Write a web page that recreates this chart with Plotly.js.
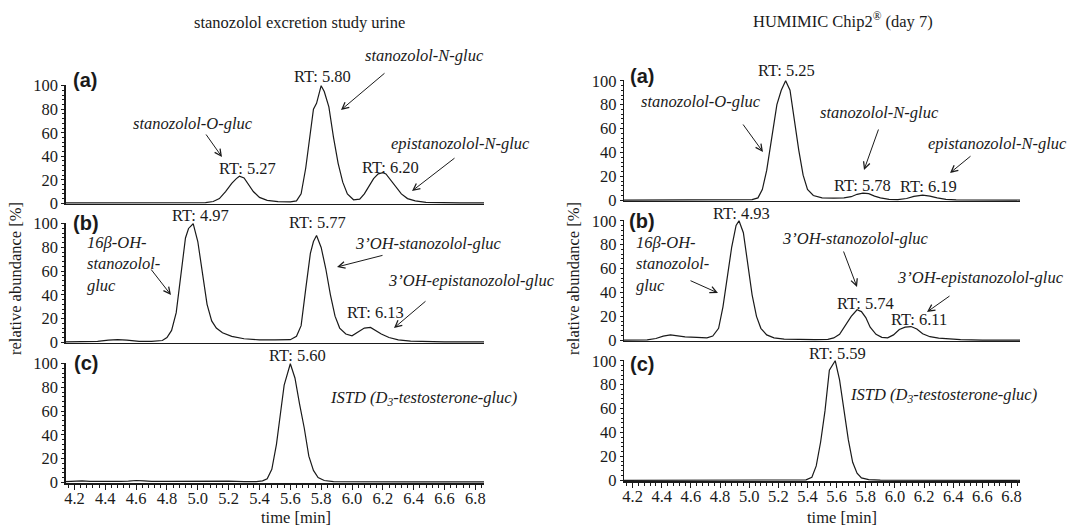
<!DOCTYPE html>
<html><head><meta charset="utf-8">
<script src="https://cdn.plot.ly/plotly-3.0.1.min.js"></script>
<style>html,body{margin:0;padding:0;background:#fff}#chart{width:1075px;height:527px}</style>
</head><body><div id="chart"></div>
<script>
// ---------- DATA ----------
// Left column: stanozolol excretion study urine
const urineA_t = [4.14,4.30,4.50,4.70,4.90,5.05,5.10,5.14,5.18,5.22,5.25,5.27,5.30,5.33,5.36,5.40,5.45,5.52,5.60,5.64,5.67,5.70,5.73,5.75,5.77,5.80,5.82,5.85,5.88,5.91,5.94,5.97,6.01,6.05,6.08,6.11,6.14,6.17,6.20,6.22,6.25,6.28,6.32,6.36,6.41,6.48,6.58,6.70,6.86];
const urineA_y = [0.3,0.3,0.4,0.3,0.4,0.6,1.5,4,10,17,21,23,21.5,16,10,5,2.5,1.5,1.2,2,8,30,62,80,85,100,95,82,56,34,18,8,3,3.5,8,15,21,25,26,25,20,14,8,4,2,0.8,0.5,0.3,0.3];

const urineB_t = [4.14,4.25,4.35,4.42,4.48,4.54,4.62,4.70,4.77,4.80,4.83,4.86,4.89,4.92,4.94,4.97,5.00,5.03,5.06,5.09,5.12,5.16,5.22,5.30,5.40,5.50,5.60,5.64,5.67,5.70,5.73,5.75,5.77,5.80,5.83,5.86,5.89,5.92,5.96,6.00,6.04,6.08,6.12,6.15,6.19,6.24,6.30,6.38,6.48,6.60,6.86];
const urineB_y = [0.3,0.4,0.8,1.8,2.2,1.8,0.8,0.8,1.5,4,10,25,55,88,96,100,85,58,32,18,12,8,5,3,2,2,2.2,5,14,45,75,85,90,80,62,40,22,12,7,5.5,9,12,12.5,10,7,4,2,1,0.5,0.3,0.3];

const urineC_t = [4.14,4.20,4.25,4.30,4.40,4.50,4.55,4.60,4.65,4.70,4.80,4.90,5.00,5.10,5.20,5.30,5.38,5.42,5.45,5.48,5.51,5.54,5.56,5.60,5.63,5.66,5.69,5.72,5.75,5.78,5.82,5.88,5.95,6.05,6.20,6.40,6.60,6.86];
const urineC_y = [0.5,0.8,1.2,0.8,0.5,0.8,1.0,1.5,1.2,0.8,0.7,0.9,0.6,0.8,0.9,0.6,0.5,1.2,3,11,32,62,82,100,88,66,46,22,10,4,1.5,0.6,0.5,0.4,0.3,0.3,0.3,0.3];

// Right column: HUMIMIC Chip2 (day 7)
const chipA_t = [4.14,4.50,4.90,5.02,5.06,5.09,5.12,5.15,5.19,5.22,5.25,5.28,5.31,5.34,5.37,5.40,5.44,5.50,5.58,5.65,5.70,5.74,5.78,5.82,5.86,5.90,5.96,6.02,6.08,6.13,6.19,6.24,6.29,6.35,6.42,6.55,6.86];
const chipA_y = [0.2,0.2,0.3,0.5,2,9,25,50,80,92,100,92,66,42,21,9,4,2,1.8,2,3,5,6,5.5,3.5,2,0.8,0.6,1.5,3.2,4.3,3.5,2,0.8,0.4,0.2,0.2];

const chipB_t = [4.14,4.30,4.36,4.41,4.46,4.51,4.56,4.64,4.71,4.75,4.79,4.82,4.85,4.88,4.91,4.93,4.96,4.99,5.02,5.05,5.08,5.12,5.17,5.24,5.35,5.45,5.54,5.58,5.62,5.66,5.70,5.74,5.77,5.80,5.83,5.87,5.91,5.95,5.99,6.03,6.07,6.11,6.15,6.19,6.24,6.30,6.37,6.45,6.60,6.86];
const chipB_y = [0.2,0.3,1.5,3.5,4.5,3.5,2.8,2.5,2,3.5,10,28,52,78,96,100,90,62,38,20,10,4.5,2,1,0.6,0.5,0.8,2,5,12,20,25.5,24,19,11,5,2.5,2,4.5,9,11,11.5,9.5,5.5,3,1.8,1,0.5,0.2,0.2];

const chipC_t = [4.14,4.60,5.00,5.30,5.39,5.43,5.46,5.49,5.52,5.55,5.59,5.62,5.65,5.68,5.71,5.74,5.77,5.82,5.90,6.20,6.86];
const chipC_y = [0,0,0,0,0.3,2.5,12,32,58,92,100,84,60,34,15,6,2,0.6,0.2,0,0];

const xTickVals = [4.2,4.4,4.6,4.8,5.0,5.2,5.4,5.6,5.8,6.0,6.2,6.4,6.6,6.8];
const yTickVals = [0,20,40,60,80,100];

const titles = ['stanozolol excretion study urine', 'HUMIMIC Chip2<sup>®</sup> (day 7)'];
const yTitle = 'relative abundance [%]';
const xTitle = 'time [min]';
const panelTags = ['(a)','(b)','(c)'];

// ---------- LAYOUT ----------
const W = 1075, H = 527;
const SERIF = "'Liberation Serif', 'Times New Roman', Times, serif";
const SANS = "'Liberation Sans', Arial, sans-serif";
const FS = 16.5;
const INK = '#1a1a1a';
const px = x => x / W;
const py = y => 1 - y / H;

const colX = [[65.5, 484], [624, 1020]];
const colRange = [[4.142, 6.856], [4.141, 6.858]];
const rowsY = [[[85,204],[223,343],[363,483]], [[80,201],[220,341],[360,481]]];

const series = [[[urineA_t,urineA_y],[urineB_t,urineB_y],[urineC_t,urineC_y]],
                [[chipA_t,chipA_y],[chipB_t,chipB_y],[chipC_t,chipC_y]]];

const data = [];
const layout = {
  width: W, height: H, margin: {l:0, r:0, t:0, b:0},
  paper_bgcolor: '#fff', plot_bgcolor: 'rgba(0,0,0,0)',
  showlegend: false, font: {family: SERIF, size: FS, color: INK},
  annotations: []
};

let idx = 1;
for (let c = 0; c < 2; c++) {
  for (let r = 0; r < 3; r++) {
    const sfx = idx === 1 ? '' : String(idx);
    const [tt, yy] = series[c][r];
    data.push({x: tt, y: yy, type: 'scatter', mode: 'lines', xaxis: 'x'+sfx, yaxis: 'y'+sfx,
      line: {color: INK, width: 1.2}, hoverinfo: 'skip'});
    const bottom = r === 2;
    layout['xaxis'+sfx] = {
      domain: [px(colX[c][0]), px(colX[c][1])], anchor: 'y'+sfx, range: colRange[c],
      showgrid: false, zeroline: false, showline: true, linecolor: INK, linewidth: bottom ? 2 : 1.4,
      tickmode: 'array', tickvals: xTickVals, tickformat: '.1f',
      ticks: bottom ? 'outside' : '', ticklen: 5, tickwidth: 1, tickcolor: INK,
      ticklabelstandoff: -6,
      showticklabels: bottom, tickfont: {family: SERIF, size: FS, color: INK},
      minor: bottom ? {dtick: 0.04, tick0: 4.2, ticks: 'outside', ticklen: 3, tickwidth: 1, tickcolor: INK, showgrid: false} : {ticks: ''},
      fixedrange: true
    };
    const [yt, yb] = rowsY[c][r];
    layout['yaxis'+sfx] = {
      domain: [py(yb), py(yt)], anchor: 'x'+sfx, range: [-0.6, 100.6],
      showgrid: false, zeroline: false, showline: true, linecolor: INK, linewidth: 1.2,
      tickmode: 'array', tickvals: yTickVals, ticks: 'outside', ticklen: 3, tickwidth: 1, tickcolor: INK,
      tickfont: {family: SERIF, size: FS, color: INK},
      minor: {dtick: 4, tick0: 0, ticks: 'outside', ticklen: 2, tickwidth: 1, tickcolor: INK, showgrid: false},
      fixedrange: true
    };
    idx++;
  }
}

function txt(s, x, y, opt) {
  layout.annotations.push(Object.assign({text: s, xref: 'paper', yref: 'paper', x: px(x), y: py(y),
    xanchor: 'center', yanchor: 'middle', showarrow: false,
    font: {family: SERIF, size: FS, color: INK}}, opt || {}));
}
function itxt(s, x, y, opt) {
  txt('<i>' + s + '</i>', x, y, opt);
}
function arrow(tx, ty, hx, hy) {
  layout.annotations.push({text: '', xref: 'paper', yref: 'paper', x: px(hx), y: py(hy),
    axref: 'pixel', ayref: 'pixel', ax: tx - hx, ay: ty - hy, showarrow: true,
    arrowhead: 5, arrowsize: 1.3, arrowwidth: 1, arrowcolor: INK, standoff: 0, startstandoff: 0});
}

// column titles, axis titles, panel tags
txt(titles[0], 299, 22);
txt(titles[1], 843, 20);
txt(yTitle, 15, 279, {textangle: -90});
txt(yTitle, 573, 279, {textangle: -90});
txt(xTitle, 296, 517);
txt(xTitle, 842, 517);
const tagPos = [[[85,80],[86,223],[86,363]], [[642,76],[642,221],[642,364]]];
for (let c = 0; c < 2; c++) for (let r = 0; r < 3; r++)
  txt('<b>' + panelTags[r] + '</b>', tagPos[c][r][0], tagPos[c][r][1],
      {font: {family: SANS, size: 20, color: INK}});

// ---- left column labels ----
itxt('stanozolol-O-gluc', 193, 123);
txt('RT: 5.27', 247, 168);
txt('RT: 5.80', 322, 76);
itxt('stanozolol-N-gluc', 424, 56);
itxt('epistanozolol-N-gluc', 460, 143);
txt('RT: 6.20', 390, 167);
arrow(205,133, 222,157);
arrow(386,72, 341,110);
arrow(456,157, 412,191);

txt('RT: 4.97', 200, 215);
txt('RT: 5.77', 317, 223);
itxt('16β-OH-<br>stanozolol-<br>gluc', 85, 231, {xanchor: 'left', yanchor: 'top', align: 'left'});
itxt('3’OH-stanozolol-gluc', 428, 243);
itxt('3’OH-epistanozolol-gluc', 386, 280, {xanchor: 'left'});
txt('RT: 6.13', 375, 312);
arrow(150,268, 171,295);
arrow(384,255, 337,267);
arrow(427,300, 394,328);

txt('RT: 5.60', 297, 355);
itxt('ISTD (D<sub>3</sub>-testosterone-gluc)', 423, 398);

// ---- right column labels ----
txt('RT: 5.25', 786, 70);
itxt('stanozolol-O-gluc', 701, 101);
itxt('stanozolol-N-gluc', 879, 113);
itxt('epistanozolol-N-gluc', 997, 143);
txt('RT: 5.78', 862, 185);
txt('RT: 6.19', 928, 186);
arrow(742,123, 763,152);
arrow(879,128, 864,170);
arrow(972,155, 950,173);

txt('RT: 4.93', 741, 213);
itxt('16β-OH-<br>stanozolol-<br>gluc', 634, 231, {xanchor: 'left', yanchor: 'top', align: 'left'});
itxt('3’OH-stanozolol-gluc', 855, 238);
txt('RT: 5.74', 865, 303);
itxt('3’OH-epistanozolol-gluc', 980, 277);
txt('RT: 6.11', 919, 319);
arrow(689,280, 718,293);
arrow(843,250, 857,287);
arrow(951,295, 927,312);

txt('RT: 5.59', 837, 353);
itxt('ISTD (D<sub>3</sub>-testosterone-gluc)', 943, 395);

Plotly.newPlot('chart', data, layout, {displayModeBar: false, staticPlot: true});
</script>
</body></html>
